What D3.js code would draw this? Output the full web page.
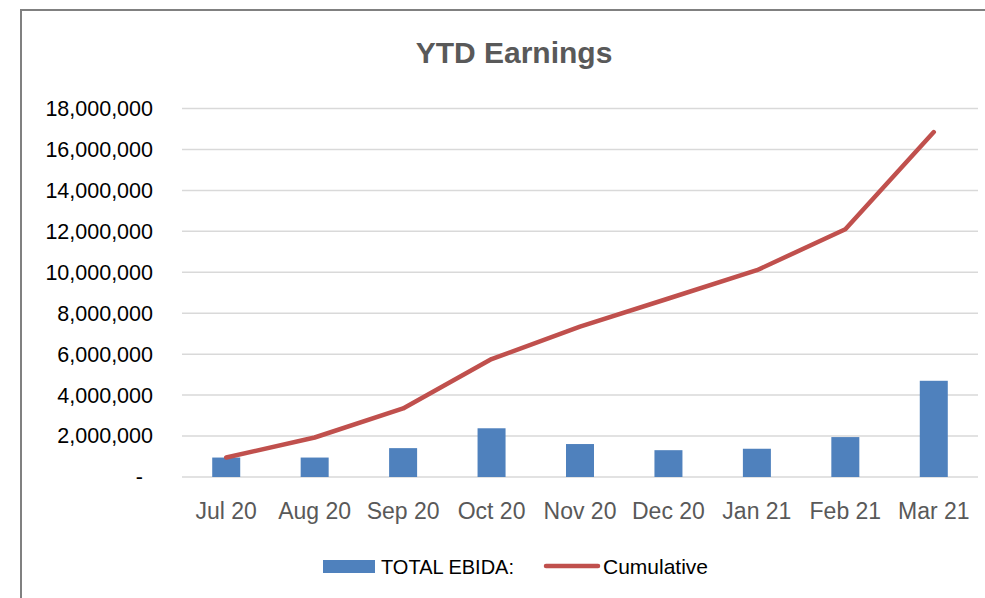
<!DOCTYPE html>
<html>
<head>
<meta charset="utf-8">
<script src="https://cdn.jsdelivr.net/npm/d3@7"></script>
<style>
  body { margin: 0; background: #fff; }
  svg { display: block; font-family: "Liberation Sans", Arial, sans-serif; }
</style>
</head>
<body>
<svg></svg>
<script>
var width = 985;
var height = 598;

// chart data
var months = ["Jul 20", "Aug 20", "Sep 20", "Oct 20", "Nov 20", "Dec 20", "Jan 21", "Feb 21", "Mar 21"];
var ebida = [950000, 950000, 1410000, 2380000, 1610000, 1310000, 1380000, 1950000, 4700000];
var cumulative = [950000, 1930000, 3350000, 5760000, 7350000, 8720000, 10100000, 12100000, 16850000];
var yTicks = [0, 2000000, 4000000, 6000000, 8000000, 10000000, 12000000, 14000000, 16000000, 18000000];

var plotLeft = 182, plotRight = 978, plotTop = 108.5, plotBottom = 477;

var svg = d3.select("svg")
    .attr("width", width)
    .attr("height", height);

// chart border (top + left visible)
svg.append("path")
    .attr("d", "M21,598 L21,10 L985,10")
    .attr("fill", "none")
    .attr("stroke", "#808080")
    .attr("stroke-width", 2);

svg.append("text")
    .attr("x", 514)
    .attr("y", 63)
    .attr("text-anchor", "middle")
    .attr("font-weight", "bold")
    .style("font-size", "30px")
    .style("fill", "#595959")
    .text("YTD Earnings");

var x = d3.scaleBand()
    .domain(months)
    .range([plotLeft, plotRight]);

var y = d3.scaleLinear()
    .domain([0, 18000000])
    .range([plotBottom, plotTop]);

// gridlines
svg.append("g")
    .selectAll("line")
    .data(yTicks)
    .enter().append("line")
    .attr("x1", plotLeft)
    .attr("x2", plotRight)
    .attr("y1", function(d) { return y(d); })
    .attr("y2", function(d) { return y(d); })
    .attr("stroke", "#d9d9d9")
    .attr("stroke-width", 1.5);

// y axis labels
var fmt = d3.format(",");
var yAxis = svg.append("g")
    .attr("transform", "translate(153,0)")
    .call(d3.axisLeft(y)
        .tickValues(yTicks)
        .tickSize(0)
        .tickPadding(0)
        .tickFormat(function(d) { return d === 0 ? "-" : fmt(d); }));
yAxis.select(".domain").remove();
yAxis.selectAll("text")
    .style("font-size", "21.5px")
    .style("font-family", "Liberation Sans, Arial, sans-serif")
    .attr("fill", "#000")
    .attr("dx", function(d) { return d === 0 ? -10 : 0; });

// x axis labels
var xAxis = svg.append("g")
    .attr("transform", "translate(0," + plotBottom + ")")
    .call(d3.axisBottom(x).tickSize(0).tickPadding(26));
xAxis.select(".domain").remove();
xAxis.selectAll("text")
    .style("font-size", "23px")
    .style("font-family", "Liberation Sans, Arial, sans-serif")
    .attr("fill", "#595959");

// bars
var barW = 28;
svg.append("g")
    .selectAll("rect")
    .data(ebida)
    .enter().append("rect")
    .attr("x", function(d, i) { return x(months[i]) + x.bandwidth() / 2 - barW / 2; })
    .attr("y", function(d) { return y(d); })
    .attr("width", barW)
    .attr("height", function(d) { return y(0) - y(d); })
    .attr("fill", "#4f81bd");

// cumulative line
var line = d3.line()
    .x(function(d, i) { return x(months[i]) + x.bandwidth() / 2; })
    .y(function(d) { return y(d); });

svg.append("path")
    .datum(cumulative)
    .attr("d", line)
    .attr("fill", "none")
    .attr("stroke", "#c0504d")
    .attr("stroke-width", 4.5)
    .attr("stroke-linecap", "round")
    .attr("stroke-linejoin", "round");

// legend
var legend = svg.append("g");
legend.append("rect")
    .attr("x", 323).attr("y", 560)
    .attr("width", 52).attr("height", 13)
    .attr("fill", "#4f81bd");
legend.append("text")
    .attr("x", 381).attr("y", 574)
    .style("font-size", "20px")
    .attr("fill", "#000")
    .text("TOTAL EBIDA:");
legend.append("line")
    .attr("x1", 546).attr("x2", 598)
    .attr("y1", 566).attr("y2", 566)
    .attr("stroke", "#c0504d")
    .attr("stroke-width", 4.5)
    .attr("stroke-linecap", "round");
legend.append("text")
    .attr("x", 603).attr("y", 574)
    .style("font-size", "21px")
    .attr("fill", "#000")
    .text("Cumulative");
</script>
</body>
</html>
